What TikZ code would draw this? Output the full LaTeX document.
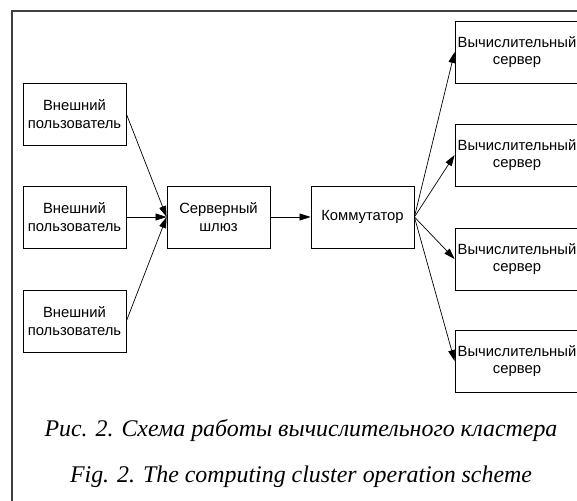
\documentclass[tikz,border=0pt]{standalone}
\usepackage{fontspec}
\setmainfont{Liberation Serif}
\setsansfont{Liberation Sans}
\usetikzlibrary{arrows.meta}

\tikzset{
  box/.style={draw,line width=0.8pt,inner sep=0pt,align=center,
    minimum width=103pt,minimum height=62pt,
    font=\sffamily\fontsize{14.8}{17.5}\selectfont},
  srvbox/.style={box,minimum width=124pt},
  link/.style={line width=0.7pt,-{Triangle[length=11pt,width=7pt]}},
  capt/.style={anchor=base,font=\itshape\fontsize{23.9}{28}\selectfont}
}

\begin{document}
\begin{tikzpicture}[x=1pt,y=-1pt]
\useasboundingbox (0,0) rectangle (577,500);
\draw[line width=1.2pt,gray!50!black] (12,11) rectangle (600,520);
% users
\node[box] (u1) at (74.5,114) {Внешний\\пользователь};
\node[box] (u2) at (74.5,217) {Внешний\\пользователь};
\node[box] (u3) at (74.5,321) {Внешний\\пользователь};
\node[box] (gw) at (218.5,217) {Серверный\\шлюз};
\node[box] (sw) at (362.5,217) {Коммутатор};
% servers
\node[srvbox] (s1) at (517,52) {Вычислительный\\сервер};
\node[srvbox] (s2) at (517,155) {Вычислительный\\сервер};
\node[srvbox] (s3) at (517,259) {Вычислительный\\сервер};
\node[srvbox] (s4) at (517,361) {Вычислительный\\сервер};
\foreach \u in {u1,u2,u3}
  \draw[link] (\u.east) -- (gw.west);
\draw[link] (gw.east) -- (sw.west);
\foreach \s in {s1,s2,s3,s4}
  \draw[link] (sw.east) -- (\s.west);
\node[capt] (c1) at (301,436) {Рис. 2. Схема работы вычислительного кластера};
\node[capt] (c2) at (301,482) {Fig. 2. The computing cluster operation scheme};
\end{tikzpicture}
\end{document}
